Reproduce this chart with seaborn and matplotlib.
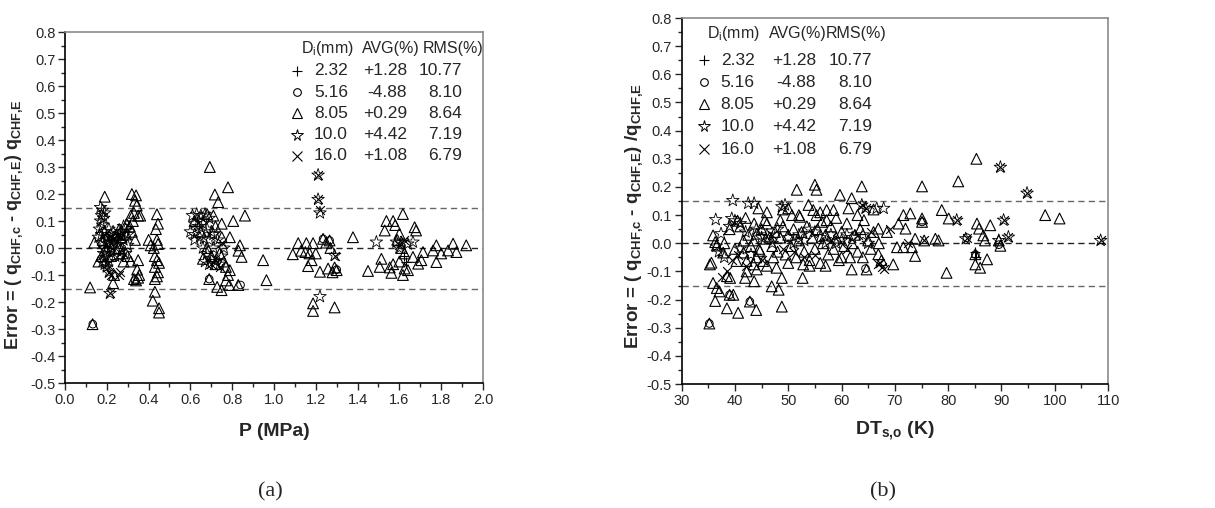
import numpy as np
import pandas as pd
import matplotlib
matplotlib.use("Agg")
import matplotlib.pyplot as plt
import seaborn as sns
from matplotlib import font_manager
from matplotlib.ticker import MultipleLocator

# ---------------- data ----------------
diam = ["2.32", "5.16", "8.05", "10.0", "16.0"]
avg = ["+1.28", "-4.88", "+0.29", "+4.42", "+1.08"]
rms = ["10.77", "8.10", "8.64", "7.19", "6.79"]

# panel (a): P (MPa) vs error
a_tri = [(0.12,-0.146),(0.132,-0.282),(0.19,0.19),(0.14,0.02),(0.16,-0.05),(0.175,-0.03),(0.18,0.03),(0.2,-0.01),
 (0.21,0.02),(0.22,-0.03),(0.235,-0.10),(0.23,-0.13),(0.245,0.05),(0.255,0.0),(0.26,0.07),(0.27,0.04),(0.275,-0.02),(0.28,-0.05),(0.29,0.05),(0.295,0.09),(0.30,-0.03),
 (0.32,0.20),(0.34,0.195),(0.335,0.175),(0.343,0.157),(0.315,0.12),(0.35,0.12),(0.33,0.13),(0.325,0.10),(0.31,0.08),(0.32,0.06),(0.335,0.03),(0.315,-0.05),(0.35,-0.045),(0.345,-0.08),(0.35,-0.11),(0.34,-0.12),(0.33,-0.115),(0.36,0.12),(0.355,-0.10),
 (0.40,0.03),(0.41,0.01),(0.44,0.125),(0.445,0.09),(0.435,0.07),(0.44,0.03),(0.445,0.015),(0.43,-0.03),(0.44,-0.045),(0.45,-0.055),(0.43,-0.07),(0.44,-0.105),(0.43,-0.115),(0.445,-0.09),(0.43,-0.162),(0.42,-0.195),(0.45,-0.223),(0.45,-0.239),(0.425,0.0),
 (0.693,0.30),(0.717,0.198),(0.78,0.225),(0.733,0.17),(0.861,0.12),(0.805,0.10),(0.789,0.04),(0.837,0.01),(0.83,-0.01),(0.845,-0.033),(0.948,-0.045),(0.964,-0.119),(0.829,-0.137),(0.786,-0.137),(0.749,-0.156),(0.728,-0.144),(0.69,-0.115),(0.789,-0.082),(0.77,-0.07),(0.76,-0.05),(0.72,-0.06),(0.70,-0.03),(0.74,-0.02),(0.75,0.04),(0.72,0.08),(0.78,-0.1),(0.66,-0.04),(0.68,0.0),(0.65,0.06),(0.62,0.10),(0.71,0.12),(0.68,0.125),(0.75,0.09),(0.77,-0.12),
 (1.09,-0.023),(1.116,0.018),(1.155,0.018),(1.187,0.018),(1.163,-0.067),(1.18,-0.045),(1.13,-0.01),(1.15,-0.015),(1.17,-0.02),(1.20,-0.02),(1.22,-0.088),(1.259,-0.076),(1.29,-0.072),(1.30,-0.082),(1.28,-0.09),(1.187,-0.205),(1.187,-0.233),(1.29,-0.22),(1.235,0.034),(1.266,0.028),(1.25,0.02),(1.27,0.0),(1.378,0.04),
 (1.45,-0.085),(1.514,-0.04),(1.506,-0.07),(1.554,-0.072),(1.562,-0.092),(1.538,0.10),(1.53,0.065),(1.57,0.10),(1.58,0.085),(1.617,0.126),(1.60,0.053),(1.673,0.077),(1.68,0.065),(1.625,-0.02),(1.625,-0.076),(1.617,-0.1),(1.641,-0.082),(1.665,-0.033),(1.69,-0.058),(1.705,-0.045),(1.713,-0.015),(1.761,-0.009),(1.777,0.01),(1.777,-0.052),(1.80,-0.02),(1.833,-0.009),(1.857,0.016),(1.873,-0.015),(1.92,0.01),(1.59,0.03),(1.60,-0.05),(1.57,-0.06),(1.61,0.0)]
a_star = [(0.17,0.15),(0.18,0.14),(0.19,0.13),(0.175,0.12),(0.185,0.11),(0.17,0.10),(0.18,0.085),(0.165,0.07),(0.19,0.06),(0.175,0.05),(0.16,0.04),(0.2,0.04),(0.21,0.03),(0.18,0.02),(0.19,0.0),(0.2,-0.01),(0.185,-0.02),(0.195,-0.035),(0.18,-0.05),(0.19,-0.06),(0.2,-0.07),(0.21,-0.05),(0.22,0.0),(0.23,0.02),(0.24,0.04),(0.25,0.03),(0.26,0.05),(0.265,0.02),(0.27,0.06),(0.28,0.08),(0.29,0.07),(0.3,0.05),(0.25,-0.01),(0.24,-0.03),(0.23,0.06),(0.22,0.05),(0.21,0.07),(0.28,0.03),(0.3,0.01),(0.27,-0.01),(0.26,-0.03),(0.29,-0.02),(0.21,-0.09),(0.215,-0.168),(0.22,0.01),(0.205,0.015),
 (0.61,0.12),(0.63,0.125),(0.65,0.12),(0.67,0.125),(0.69,0.11),(0.62,0.09),(0.64,0.08),(0.66,0.09),(0.68,0.07),(0.70,0.06),(0.6,0.06),(0.62,0.05),(0.645,0.04),(0.665,0.035),(0.69,0.03),(0.71,0.05),(0.73,0.03),(0.66,0.0),(0.68,-0.02),(0.70,-0.04),(0.72,-0.05),(0.74,-0.06),(0.67,-0.05),(0.69,-0.06),(0.71,0.0),(0.75,-0.03),(0.76,0.0),(0.62,0.03),(0.64,0.1),
 (1.211,0.27),(1.211,0.18),(1.22,0.13),(1.22,-0.18),(1.29,-0.027),
 (1.49,0.022),(1.586,0.022),(1.61,0.02),(1.64,0.015),(1.665,0.022),(1.60,0.0)]
a_x = [(1.211,0.27),(1.211,0.18),(1.22,0.14),(1.29,-0.03),(0.215,-0.168),(0.21,-0.09),(0.22,-0.10),(0.26,-0.10),(0.265,-0.09),(0.20,-0.06),(0.19,0.05),(0.23,0.03),(0.25,0.05),(0.27,0.04),(0.7,-0.06),(0.72,-0.04),(0.74,-0.07),(0.75,0.02),(1.60,0.01),(1.62,0.03)]
a_plus = [(1.62,-0.03),(1.63,-0.05)]
a_circ = [(0.133,-0.282),(0.69,-0.115),(0.335,-0.12),(1.235,0.034),(1.266,0.028),(1.30,-0.08),(0.84,-0.137)]

# panel (b): DT_s,o (K) vs error
b_tri = [(35.2,-0.285),(35.3,-0.075),(35.6,-0.069),(35.9,-0.141),(36.3,-0.205),(36.6,-0.159),(37.1,-0.171),(36.3,0.004),(35.9,0.028),(36.6,-0.008),(37.8,-0.033),(38.5,-0.231),(38.5,-0.117),(39.1,-0.123),(39.0,-0.183),(39.7,-0.183),(40.6,-0.247),(40.3,-0.063),(41.6,0.01),(41.6,-0.033),(42.2,-0.063),(42.2,-0.10),(41.9,-0.123),(42.8,-0.207),(44.0,-0.237),(44.4,0.124),(43.6,0.07),(44.1,0.034),(43.5,-0.075),(43.6,-0.135),(44.1,-0.093),(45.3,-0.063),(44.7,-0.027),(45.8,0.016),(45.6,0.082),(46.9,-0.153),(48.2,-0.165),(48.8,-0.225),(48.8,-0.123),(47.8,-0.087),(47.2,-0.05),(48.5,0.082),(50.0,0.124),(50.7,0.10),(51.6,0.19),(55.0,0.208),(55.3,0.19),(59.7,0.172),(61.9,0.16),(63.8,0.202),(52.2,0.094),(52.8,-0.075),(52.7,-0.123),(53.8,0.136),(54.7,0.118),(55.3,0.10),(56.3,0.076),(57.2,0.082),(57.2,0.118),(58.5,0.118),(61.9,-0.093),(61.6,-0.05),(61.3,0.124),(64.2,0.082),(64.7,-0.093),(69.7,-0.075),(66.9,0.052),(68.5,0.04),(66.9,-0.039),(70.7,0.07),(71.6,0.10),(72.9,0.106),(72.0,0.052),(70.4,-0.014),(71.6,-0.014),(73.2,-0.014),(73.8,-0.045),(73.8,0.016),(75.1,0.202),(75.1,0.076),(75.1,0.088),(75.5,0.01),(77.6,0.016),(78.2,0.01),(78.8,0.118),(80.1,0.088),(81.9,0.22),(79.7,-0.105),(85.4,0.07),(85.8,0.052),(86.9,0.01),(85.1,-0.039),(85.1,-0.075),(86.0,-0.087),(87.3,-0.057),(86.6,0.028),(87.9,0.064),(85.3,0.30),(89.5,0.01),(89.8,-0.009),(98.2,0.10),(100.9,0.088),
 (38,0.0),(39,0.05),(40,-0.02),(40.5,0.08),(41,0.06),(42,0.09),(42.5,0.03),(43,-0.01),(43.5,0.01),(44.5,-0.02),(45,0.05),(46,0.07),(46.5,0.02),(47,-0.01),(47.5,0.04),(48,-0.03),(48.5,0.02),(49,0.06),(49.5,-0.04),(50,0.03),(50.5,-0.01),(51,0.05),(51.5,-0.05),(52,0.01),(52.5,0.04),(53,-0.03),(53.5,0.06),(54,-0.06),(54.5,0.02),(55,-0.02),(55.5,0.05),(56,-0.07),(56.5,0.0),(57,0.03),(57.5,-0.04),(58,0.06),(58.5,-0.02),(59,0.02),(59.5,-0.06),(60,0.04),(60.5,-0.01),(61,0.07),(62,0.0),(62.5,0.03),(63,-0.03),(63.5,0.05),(64,-0.05),(65,0.01),(65.5,-0.02),(66,0.04),(67,0.0),(67.5,-0.06),(44,-0.05),(46,-0.08),(50,-0.07),(54,-0.08),(57,-0.08),(60,-0.05),(46,0.11),(49,0.12),(52,0.1),(56,0.11),(59,0.09),(63,0.1),(66,0.12)]
b_star = [(36.4,0.084),(37.4,0.034),(39.6,0.152),(39.4,0.088),(42.5,0.142),(43.6,0.142),(48.8,0.13),(49.4,0.136),(63.8,0.136),(66.6,0.124),(67.9,0.124),(83.3,0.016),(36.5,-0.01),(37,-0.03),(38,-0.05),(39,0.06),(40,0.08),(41,0.07),(42,0.04),(44,0.05),(45,0.02),(46,0.03),(47,0.0),(48,0.05),(50,0.02),(51,0.0),(52,0.03),(53,0.01),(55,0.04),(56,0.02),(58,0.03),(59,0.0),(60,0.01),(61,0.03),(62,0.02),(64,0.03),(65,0.0),(41,-0.02),(43,-0.04),(57,0.0),(54,0.05),(89.8,0.27),(94.8,0.178),(108.6,0.01),(90.4,0.082),(91.3,0.022),(81.6,0.082),(64.5,0.124),(89.5,0.01)]
b_x = [(89.8,0.27),(94.8,0.178),(108.6,0.01),(90.4,0.082),(91.3,0.022),(81.6,0.082),(64.5,0.124),(63.8,0.136),(67.3,-0.069),(67.5,-0.085),(68,-0.09),(66.8,-0.075),(38.5,-0.1),(37.5,-0.12),(39.5,-0.06),(40.5,-0.04),(42,-0.08),(45,-0.06),(47,0.03),(49,-0.02),(51,-0.03),(53,-0.05),(55,-0.04),(58,0.01),(61,-0.02),(63,0.03),(65.5,0.04),(69,0.05),(72.5,0.0),(75.5,0.01),(83.5,0.02)]
b_plus = [(85.0,-0.03),(85.2,-0.05)]
b_circ = [(35.2,-0.285),(39.0,-0.183),(42.8,-0.207),(64.5,-0.09),(75.1,0.076),(85.1,-0.04),(89.5,-0.005),(83.5,0.02)]

# ---------------- style ----------------
sns.set_style("ticks")
avail = {f.name for f in font_manager.fontManager.ttflist}
narrow = "Liberation Sans Narrow" if "Liberation Sans Narrow" in avail else "Liberation Sans"
plt.rcParams["font.family"] = ["Liberation Sans", "DejaVu Sans"]
plt.rcParams["mathtext.fontset"] = "custom"
plt.rcParams["mathtext.rm"] = "Liberation Sans"
plt.rcParams["mathtext.bf"] = "Liberation Sans:bold"
plt.rcParams["mathtext.it"] = "Liberation Sans:italic"

fig = plt.figure(figsize=(12.15, 5.08), dpi=100)
axA = fig.add_axes([0.0535, 0.246, 0.344, 0.691])
axB = fig.add_axes([0.561, 0.244, 0.351, 0.7205])


def draw(ax, tri, star, xs, plus, circ):
    def df(pts):
        return pd.DataFrame(pts, columns=["x", "y"])
    sns.scatterplot(data=df(circ), x="x", y="y", ax=ax, marker="o", s=30,
                    facecolors="none", edgecolor="black", linewidth=0.7, legend=False)
    sns.scatterplot(data=df(tri), x="x", y="y", ax=ax, marker="^", s=60,
                    facecolors="none", edgecolor="black", linewidth=0.8, legend=False)
    sns.scatterplot(data=df(star), x="x", y="y", ax=ax, marker="*", s=90,
                    facecolors="none", edgecolor="black", linewidth=0.6, legend=False)
    sns.scatterplot(data=df(xs), x="x", y="y", ax=ax, marker="x", s=40,
                    color="black", linewidth=0.8, legend=False)
    sns.scatterplot(data=df(plus), x="x", y="y", ax=ax, marker="+", s=45,
                    color="black", linewidth=0.8, legend=False)


draw(axA, a_tri, a_star, a_x, a_plus, a_circ)
draw(axB, b_tri, b_star, b_x, b_plus, b_circ)

for ax, xlim in ((axA, (0, 2.0)), (axB, (30, 110))):
    ax.set_xlim(*xlim)
    ax.set_ylim(-0.5, 0.8)
    for yv, col in ((0.15, "#666666"), (0.0, "#222222"), (-0.15, "#666666")):
        ax.axhline(yv, color=col, lw=1.0, ls=(0, (4.5, 3)), zorder=0)
    ax.yaxis.set_major_locator(MultipleLocator(0.1))
    ax.yaxis.set_minor_locator(MultipleLocator(0.05))
    ax.tick_params(which="major", direction="out", length=5, width=1, labelsize=10.5, pad=2)
    ax.tick_params(which="minor", direction="out", length=3, width=1)
    for s in ("left", "bottom"):
        ax.spines[s].set_color("black")
        ax.spines[s].set_linewidth(1.2)
    for s in ("top", "right"):
        ax.spines[s].set_visible(True)
        ax.spines[s].set_color("#8a8a8a")
        ax.spines[s].set_linewidth(1.2)
    ax.yaxis.set_major_formatter(matplotlib.ticker.FormatStrFormatter("%.1f"))

axA.xaxis.set_major_locator(MultipleLocator(0.2))
axA.xaxis.set_minor_locator(MultipleLocator(0.1))
axA.xaxis.set_major_formatter(matplotlib.ticker.FormatStrFormatter("%.1f"))
axB.xaxis.set_major_locator(MultipleLocator(10))
axB.xaxis.set_minor_locator(MultipleLocator(5))

axA.set_xlabel("P (MPa)", fontsize=14, fontweight="bold", family=narrow, labelpad=12)
axB.set_xlabel(r"DT$_{\mathbf{s{,}o}}$ (K)", fontsize=14, fontweight="bold", family=narrow, labelpad=8)
axA.set_ylabel(r"Error = ( q$_{\mathbf{CHF{,}c}}$ - q$_{\mathbf{CHF{,}E}}$) q$_{\mathbf{CHF{,}E}}$",
               fontsize=13, fontweight="bold")
axB.set_ylabel(r"Error = ( q$_{\mathbf{CHF{,}c}}$ - q$_{\mathbf{CHF{,}E}}$) /q$_{\mathbf{CHF{,}E}}$",
               fontsize=13.5, fontweight="bold")
axA.yaxis.set_label_coords(-0.095, 0.45)
axB.yaxis.set_label_coords(-0.085, 0.46)

fig.text(270 / 1215, 1 - 492 / 508, "(a)", ha="center", va="center", fontsize=16, family="Liberation Serif")
fig.text(883 / 1215, 1 - 492 / 508, "(b)", ha="center", va="center", fontsize=16, family="Liberation Serif")

# legend-like tables
leg_markers = [dict(marker="+", ms=7, mfc="none", mec="black", mew=0.8),
               dict(marker="o", ms=5.5, mfc="none", mec="black", mew=0.8),
               dict(marker="^", ms=7, mfc="none", mec="black", mew=0.8),
               dict(marker="*", ms=8.5, mfc="none", mec="black", mew=0.7),
               dict(marker="x", ms=6.5, mfc="none", mec="black", mew=0.8)]


def table(ax, xsym, xd, xa, xr, hd, ha_, hr, yh, rows):
    kw = dict(transform=ax.transAxes, fontsize=12.5, family=narrow, va="center")
    hkw = dict(kw, fontsize=11.5)
    ax.text(hd, yh, r"D$_{\mathregular{i}}$(mm)", ha="left", **hkw)
    ax.text(ha_, yh, "AVG(%)", ha="left", **hkw)
    ax.text(hr, yh, "RMS(%)", ha="left", **hkw)
    for i, y in enumerate(rows):
        ax.plot([xsym], [y], transform=ax.transAxes, ls="none", clip_on=False, **leg_markers[i])
        ax.text(xd, y, diam[i], ha="right", **kw)
        ax.text(xa, y, avg[i], ha="right", **kw)
        ax.text(xr, y, rms[i], ha="right", **kw)


table(axA, 0.555, 0.677, 0.818, 0.950, 0.565, 0.71, 0.855, 0.952,
      [0.889, 0.829, 0.769, 0.707, 0.647])
table(axB, 0.052, 0.171, 0.315, 0.446, 0.060, 0.205, 0.338, 0.959,
      [0.885, 0.825, 0.765, 0.705, 0.642])

fig.savefig("out.png", dpi=100)
